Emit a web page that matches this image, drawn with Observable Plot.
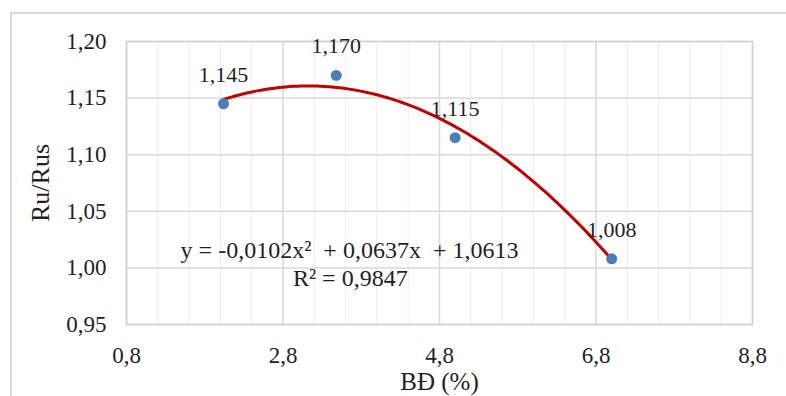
<!DOCTYPE html>
<html>
<head>
<meta charset="utf-8">
<script src="https://cdn.jsdelivr.net/npm/d3@7"></script>
<script src="https://cdn.jsdelivr.net/npm/@observablehq/plot@0.6"></script>
<style>
  html, body { margin: 0; padding: 0; background: #fff; overflow: hidden; }
  #wrap { position: relative; width: 786px; height: 396px; }
  #border { position: absolute; left: 10px; top: 12px; width: 800px; height: 400px; border: 2px solid #d9d9d9; box-sizing: border-box; }
  #chart { position: absolute; left: 0; top: 0; }
  svg text { white-space: pre; }
</style>
</head>
<body>
<div id="wrap"><div id="border"></div><div id="chart"></div></div>
<script>
// Data
const bd = [2.04, 3.48, 5.0, 7.0];               // BĐ (%)
const ratio = [1.145, 1.170, 1.115, 1.008];       // Ru/Rus
const labels = ["1,145", "1,170", "1,115", "1,008"];
const xTicks = [0.8, 2.8, 4.8, 6.8, 8.8];
const xMinor = [1.2, 1.6, 2.0, 2.4, 3.2, 3.6, 4.0, 4.4, 5.2, 5.6, 6.0, 6.4, 7.2, 7.6, 8.0, 8.4];
const yTicks = [0.95, 1.00, 1.05, 1.10, 1.15, 1.20];
const trendCoef = [-0.0102, 0.0637, 1.0613];      // polynomial trendline (order 2) shown on chart
const eqLine1 = "y = -0,0102x\u00b2\u00a0 + 0,0637x\u00a0 + 1,0613";
const eqLine2 = "R\u00b2 = 0,9847";

const points = bd.map((x, i) => ({x, y: ratio[i], label: labels[i]}));
const trend = d3.range(0, 101).map(i => {
  const x = bd[0] + (bd[bd.length - 1] - bd[0]) * i / 100;
  return {x, y: trendCoef[0] * x * x + trendCoef[1] * x + trendCoef[2]};
});

const font = "Liberation Serif, Times New Roman, serif";
const ink = "#1f1f1f";
const plot = Plot.plot({
  width: 786,
  height: 396,
  marginTop: 41,
  marginBottom: 72,
  marginLeft: 126,
  marginRight: 34,
  style: {fontFamily: font, background: "transparent", color: ink},
  x: {domain: [0.8, 8.8]},
  y: {domain: [0.95, 1.20]},
  marks: [
    Plot.ruleX(xMinor, {stroke: "#ececec", strokeWidth: 1}),
    Plot.ruleX(xTicks, {stroke: "#d9d9d9", strokeWidth: 1.5}),
    Plot.ruleY(yTicks, {stroke: "#d9d9d9", strokeWidth: 1.5}),
    Plot.frame({stroke: "#cfcfcf", strokeWidth: 1.5}),
    Plot.axisX({ticks: xTicks, tickFormat: d => d.toFixed(1).replace(".", ","), tickSize: 0, tickPadding: 22, fontSize: 23, label: null, fill: ink}),
    Plot.axisY({ticks: yTicks, tickFormat: d => d.toFixed(2).replace(".", ","), tickSize: 0, tickPadding: 20, fontSize: 23, label: null, fill: ink}),
    Plot.line(trend, {x: "x", y: "y", stroke: "#c00000", strokeWidth: 3, curve: "linear"}),
    Plot.dot(points, {x: "x", y: "y", r: 5.5, fill: "#4a7ebb", stroke: "none"}),
    Plot.text(points, {x: "x", y: "y", text: "label", dy: -22, lineAnchor: "bottom", fontSize: 22, fill: ink}),
    Plot.text([eqLine1], {x: 3.65, y: 1.0085, text: d => d, lineAnchor: "bottom", fontSize: 24, fill: ink}),
    Plot.text([eqLine2], {x: 3.66, y: 0.984, text: d => d, lineAnchor: "bottom", fontSize: 24, fill: ink}),
    Plot.text(["BĐ (%)"], {frameAnchor: "bottom", dy: 65, textAnchor: "middle", lineAnchor: "bottom", fontSize: 25, fill: ink}),
    Plot.text(["Ru/Rus"], {frameAnchor: "left", dx: -78, rotate: -90, textAnchor: "middle", lineAnchor: "bottom", fontSize: 26, fill: ink})
  ]
});
document.getElementById("chart").appendChild(plot);
</script>
</body>
</html>
